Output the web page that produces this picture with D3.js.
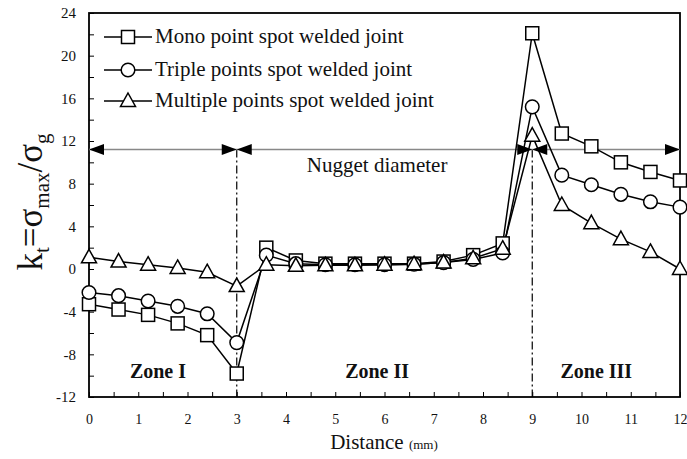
<!DOCTYPE html>
<html><head><meta charset="utf-8">
<script src="https://cdn.jsdelivr.net/npm/d3@7"></script>
<style>
body{margin:0;background:#fff;}
svg{display:block;}
svg text{font-family:"Liberation Serif","Times New Roman",serif;}
</style></head>
<body><svg id="c" width="687" height="459"></svg>
<script>
const distance = [0,0.6,1.2,1.8,2.4,3.0,3.6,4.2,4.8,5.4,6.0,6.6,7.2,7.8,8.4,9.0,9.6,10.2,10.8,11.4,12.0];
const mono     = [-3.3,-3.8,-4.3,-5.1,-6.2,-9.8,2.0,0.8,0.5,0.5,0.5,0.5,0.7,1.3,2.4,22.1,12.7,11.5,10.0,9.1,8.3];
const triple   = [-2.2,-2.5,-3.0,-3.5,-4.2,-6.9,1.3,0.5,0.4,0.4,0.4,0.45,0.6,0.9,1.5,15.2,8.8,7.9,7.0,6.3,5.8];
const multiple = [1.1,0.7,0.4,0.1,-0.3,-1.6,0.4,0.3,0.35,0.35,0.4,0.45,0.6,1.0,1.9,12.5,6.0,4.3,2.8,1.6,0.0];
const seriesNames = ["Mono point spot welded joint","Triple points spot welded joint","Multiple points spot welded joint"];
const yTicks = [-12,-8,-4,0,4,8,12,16,20,24];
const xTicks = [0,1,2,3,4,5,6,7,8,9,10,11,12];
const zoneBounds = [3,9];
const nuggetLevel = 11.2;
const zones = [{label:"Zone I",x:1.4},{label:"Zone II",x:5.85},{label:"Zone III",x:10.3}];

const FF = "Liberation Serif, Times New Roman, serif";
const svg = d3.select("#c");
const L=89,R=680,T=13,B=397;
const x = d3.scaleLinear().domain([0,12]).range([L,R]);
const y = d3.scaleLinear().domain([-12,24]).range([B,T]);

svg.append("rect").attr("x",L).attr("y",T).attr("width",R-L).attr("height",B-T)
  .attr("fill","none").attr("stroke","#000").attr("stroke-width",1.8);

const yAx = d3.axisLeft(y).tickValues(d3.range(-12,24.01,2)).tickSize(-5).tickFormat(d=>yTicks.includes(d)?d:"");
const gy = svg.append("g").attr("transform",`translate(${L},0)`).call(yAx).attr("font-family",FF);
gy.select(".domain").remove();
gy.selectAll(".tick line").attr("stroke","#000").attr("stroke-width",1);
gy.selectAll(".tick text").attr("x",-13).attr("font-size",15).attr("font-family",FF).attr("fill","#111");

const xAx = d3.axisBottom(x).tickValues(d3.range(0,12.01,0.5)).tickSize(-5).tickFormat(d=>xTicks.includes(d)?d:"");
const gx = svg.append("g").attr("transform",`translate(0,${B})`).call(xAx).attr("font-family",FF);
gx.select(".domain").remove();
gx.selectAll(".tick line").attr("stroke","#000").attr("stroke-width",1);
gx.selectAll(".tick text").attr("y",17).attr("font-size",14).attr("font-family",FF).attr("fill","#111");

svg.selectAll(".zl").data(zoneBounds).enter().append("line")
  .attr("x1",d=>x(d)).attr("x2",d=>x(d)).attr("y1",y(nuggetLevel)).attr("y2",B)
  .attr("stroke","#000").attr("stroke-width",1.2).attr("stroke-dasharray","8,3,2,3");

svg.append("line").attr("x1",L).attr("x2",R).attr("y1",y(nuggetLevel)).attr("y2",y(nuggetLevel))
  .attr("stroke","#888").attr("stroke-width",1.5);

function arrow(tipX, dir){
  const yy=y(nuggetLevel), len=15, hw=5.5;
  svg.append("path").attr("d",`M${tipX},${yy} L${tipX-dir*len},${yy-hw} L${tipX-dir*len},${yy+hw} Z`).attr("fill","#000");
}
arrow(x(0),-1); arrow(x(12),1);
zoneBounds.forEach(b=>{arrow(x(b),1); arrow(x(b),-1);});

svg.append("text").attr("x",x(5.85)).attr("y",y(nuggetLevel)+22).attr("text-anchor","middle")
  .attr("font-family",FF).attr("font-size",21).attr("fill","#111").text("Nugget diameter");

zones.forEach(z=>{
  svg.append("text").attr("x",x(z.x)).attr("y",378).attr("text-anchor","middle").attr("font-family",FF)
    .attr("font-size",20).attr("font-weight","bold").attr("fill","#111").text(z.label);
});

const data = [mono,triple,multiple];
const line = d3.line().x((d,i)=>x(distance[i])).y(d=>y(d));
data.forEach(s=>{
  svg.append("path").datum(s).attr("d",line).attr("fill","none").attr("stroke","#000").attr("stroke-width",1.5);
});

function marker(g, type, cx, cy){
  if(type===0) g.append("rect").attr("x",cx-6.5).attr("y",cy-6.5).attr("width",13).attr("height",13);
  else if(type===1) g.append("circle").attr("cx",cx).attr("cy",cy).attr("r",6.8);
  else g.append("path").attr("d",`M${cx},${cy-8} L${cx+7.5},${cy+5.5} L${cx-7.5},${cy+5.5} Z`);
}
data.forEach((s,k)=>{
  const g = svg.append("g").attr("fill","#fff").attr("stroke","#000").attr("stroke-width",1.5);
  s.forEach((v,i)=>marker(g,k,x(distance[i]),y(v)));
});

const legY=[37,70,101];
seriesNames.forEach((n,k)=>{
  svg.append("line").attr("x1",104).attr("x2",152).attr("y1",legY[k]).attr("y2",legY[k]).attr("stroke","#000").attr("stroke-width",1.5);
  const g = svg.append("g").attr("fill","#fff").attr("stroke","#000").attr("stroke-width",1.5);
  marker(g,k,128,legY[k]);
  svg.append("text").attr("x",155).attr("y",legY[k]+6).attr("font-family",FF).attr("font-size",21).attr("fill","#111").text(n);
});

const yt = svg.append("text").attr("transform","translate(42,202) rotate(-90)").attr("text-anchor","middle")
  .attr("font-family",FF).attr("font-size",35).attr("fill","#111");
yt.append("tspan").text("k");
yt.append("tspan").attr("font-size",21).attr("dy",7).text("t");
yt.append("tspan").attr("dy",-7).text("=σ");
yt.append("tspan").attr("font-size",21).attr("dy",7).text("max");
yt.append("tspan").attr("dy",-7).text("/σ");
yt.append("tspan").attr("font-size",21).attr("dy",7).text("g");

const xt = svg.append("text").attr("x",384).attr("y",449).attr("text-anchor","middle").attr("font-family",FF).attr("fill","#111");
xt.append("tspan").attr("font-size",21).text("Distance ");
xt.append("tspan").attr("font-size",13).text("(mm)");
</script></body></html>
